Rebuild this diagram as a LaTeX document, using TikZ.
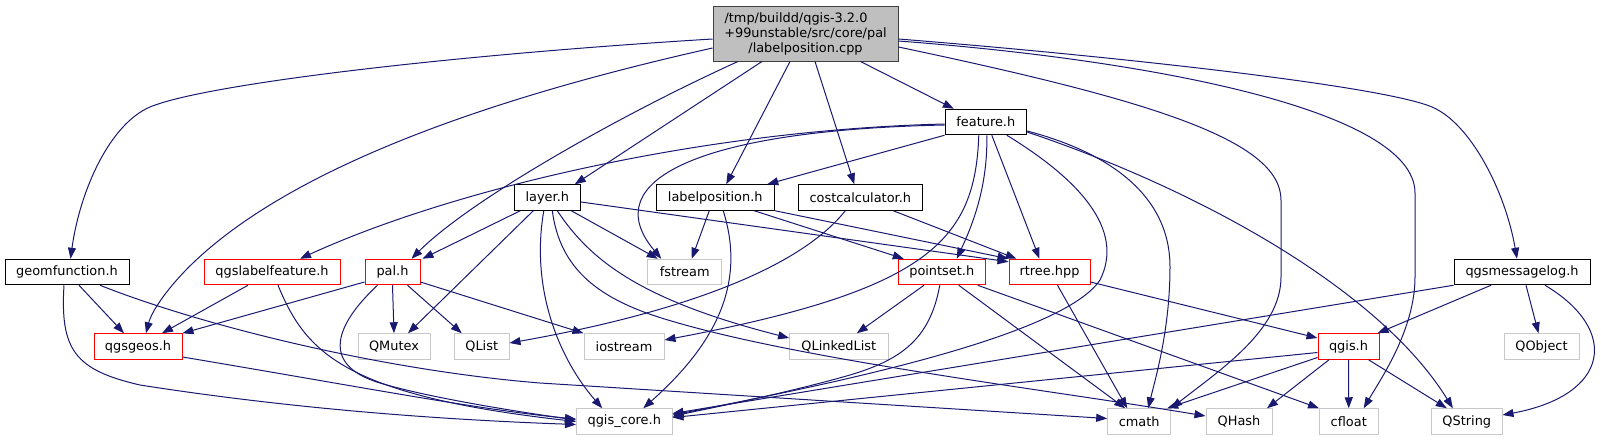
\documentclass[tikz,border=0pt]{standalone}
\usepackage{fontspec}
\setmainfont{DejaVu Sans}
\usepackage{xcolor}
\usetikzlibrary{arrows.meta, positioning}
\definecolor{edgeblue}{RGB}{25,25,112}
\definecolor{rootfill}{RGB}{191,191,191}
\definecolor{rootline}{RGB}{64,64,64}
\definecolor{sysline}{RGB}{200,200,200}
\definecolor{redline}{RGB}{255,0,0}
\tikzset{
  file/.style={
    rectangle, draw, fill=white, line width=1pt, inner sep=0pt,
    minimum height=25.5pt, font=\fontsize{12.9}{15}\selectfont, text=black
  },
  rootfile/.style={
    file, draw=rootline, fill=rootfill, minimum width=185pt,
    minimum height=55pt, align=center
  },
  docfile/.style={file, draw=black},
  redfile/.style={file, draw=redline},
  sysfile/.style={file, draw=sysline},
  incl/.style={-{Triangle[length=11pt, width=8pt]}, line width=1pt, draw=edgeblue}
}

\begin{document}
\begin{tikzpicture}[x=1pt, y=-1pt]
  \useasboundingbox (0,0) rectangle (1601,440);

  % ── Layer 0: Source file ─────────────────────────────────────────
  \node[rootfile] (labelpos_cpp) at (805.5,33.5)
    {/tmp/buildd/qgis-3.2.0\hspace*{19pt}\\+99unstable/src/core/pal\\/labelposition.cpp};

  % ── Layer 1 / 2: Direct headers ──────────────────────────────────
  \node[docfile, minimum width=81.6pt]  (feature)        at (985.8,122)   {feature.h};
  \node[docfile, minimum width=66.6pt]  (layer)          at (547.3,197.5) {layer.h};
  \node[docfile, minimum width=118.5pt] (labelposition)  at (715.25,197.5){labelposition.h};
  \node[docfile, minimum width=124.6pt] (costcalculator) at (860.3,197.5) {costcalculator.h};

  % ── Layer 3 ──────────────────────────────────────────────────────
  \node[docfile, minimum width=124pt]   (geomfunction)    at (67,272)     {geomfunction.h};
  \node[redfile, minimum width=136pt]   (qgslabelfeature) at (272,272)    {qgslabelfeature.h};
  \node[redfile, minimum width=55pt]    (pal)             at (392.5,272)  {pal.h};
  \node[sysfile, minimum width=74pt]    (fstream)         at (684.75,272) {fstream};
  \node[redfile, minimum width=86.5pt]  (pointset)        at (941.75,272) {pointset.h};
  \node[redfile, minimum width=81pt]    (rtree)           at (1049.5,272) {rtree.hpp};
  \node[docfile, minimum width=136pt]   (qgsmessagelog)   at (1522,272)   {qgsmessagelog.h};

  % ── Layer 4 ──────────────────────────────────────────────────────
  \node[redfile, minimum width=88pt]    (qgsgeos)     at (138,346.5)    {qgsgeos.h};
  \node[sysfile, minimum width=72pt]    (QMutex)      at (394,346.5)    {QMutex};
  \node[sysfile, minimum width=54.5pt]  (QList)       at (481.75,346.5) {QList};
  \node[sysfile, minimum width=80pt]    (iostream)    at (624,346.5)    {iostream};
  \node[sysfile, minimum width=98.4pt]  (QLinkedList) at (838.8,346.5)  {QLinkedList};
  \node[redfile, minimum width=61pt]    (qgis)        at (1348.5,346.5) {qgis.h};
  \node[sysfile, minimum width=75pt]    (QObject)     at (1541.5,346.5) {QObject};

  % ── Layer 5 ──────────────────────────────────────────────────────
  \node[sysfile, minimum width=95.5pt]  (qgis_core) at (624.25,421.5)  {qgis\_core.h};
  \node[sysfile, minimum width=63pt]    (cmath)     at (1139.2,421.5)  {cmath};
  \node[sysfile, minimum width=66pt]    (QHash)     at (1239,421.5)    {QHash};
  \node[sysfile, minimum width=58.5pt]  (cfloat)    at (1348.75,421.5) {cfloat};
  \node[sysfile, minimum width=70.4pt]  (QString)   at (1466.8,421.5)  {QString};

  % ── Includes of labelposition.cpp ────────────────────────────────
  \draw[incl] ([yshift=-5.5pt]labelpos_cpp.west) .. controls (450,55) and (205,84) .. (150,107)
    .. controls (110,124) and (80,190) .. ([xshift=3.5pt]geomfunction.north);
  \draw[incl] ([yshift=-14.5pt]labelpos_cpp.west) .. controls (480,100) and (290,170) .. (193,263)
    .. controls (170,285) and (152,310) .. ([xshift=8pt]qgsgeos.north);
  \draw[incl] ([xshift=-67.5pt]labelpos_cpp.south) .. controls (620,115) and (470,200) .. ([xshift=19pt]pal.north);
  \draw[incl] ([xshift=-43.5pt]labelpos_cpp.south) -- ([xshift=27.5pt]layer.north);
  \draw[incl] ([xshift=-15.5pt]labelpos_cpp.south) -- ([xshift=11pt]labelposition.north);
  \draw[incl] ([xshift=9.5pt]labelpos_cpp.south)   -- ([xshift=-6pt]costcalculator.north);
  \draw[incl] ([xshift=55pt]labelpos_cpp.south)    -- ([xshift=-32pt]feature.north);
  \draw[incl] ([yshift=-5.5pt]labelpos_cpp.east) .. controls (1100,55) and (1380,85) .. (1432,107)
    .. controls (1470,123) and (1505,190) .. ([xshift=-5pt]qgsmessagelog.north);
  \draw[incl] ([yshift=-7.5pt]labelpos_cpp.east) .. controls (1150,60) and (1415,110) .. (1415,193)
    -- (1415,277) .. controls (1415,330) and (1380,380) .. ([xshift=15pt]cfloat.north);
  \draw[incl] ([yshift=-13.5pt]labelpos_cpp.east) .. controls (1150,100) and (1281,140) .. (1281,200)
    -- (1281,277) .. controls (1281,330) and (1220,370) .. (cmath.north east);

  % ── feature.h ────────────────────────────────────────────────────
  \draw[incl] ([yshift=-2pt]feature.west) .. controls (700,130) and (450,190) .. ([xshift=28pt]qgslabelfeature.north);
  \draw[incl] ([yshift=-3pt]feature.west) .. controls (700,130) and (595,180) .. ([xshift=-23.5pt]fstream.north);
  \draw[incl] (feature.south west) -- ([xshift=52pt]labelposition.north);
  \draw[incl] ([xshift=-7pt]feature.south) .. controls (975,240) and (930,290) .. ([yshift=6.5pt]iostream.east);
  \draw[incl] ([xshift=1pt]feature.south) .. controls (988,190) and (970,230) .. ([xshift=15pt]pointset.north);
  \draw[incl] ([xshift=6pt]feature.south) -- ([xshift=-10pt]rtree.north);
  \draw[incl] ([xshift=21pt]feature.south) .. controls (1080,180) and (1125,230) .. (1100,280)
    .. controls (1060,340) and (800,390) .. ([yshift=6.5pt]qgis_core.east);
  \draw[incl] ([yshift=-9pt]feature.east) .. controls (1100,150) and (1170,190) .. (1170,267)
    .. controls (1170,330) and (1155,380) .. ([xshift=9pt]cmath.north);
  \draw[incl] ([yshift=-10pt]feature.east) .. controls (1200,190) and (1380,290) .. ([xshift=-14pt]QString.north);

  % ── layer.h ──────────────────────────────────────────────────────
  \draw[incl] ([xshift=-27pt]layer.south) -- ([xshift=30pt]pal.north);
  \draw[incl] ([xshift=-14pt]layer.south) -- ([xshift=14pt]QMutex.north);
  \draw[incl] ([yshift=-4.5pt]layer.east) -- ([yshift=-3pt]rtree.north west);
  \draw[incl] ([xshift=24pt]layer.south)  -- ([xshift=-27pt]fstream.north);
  \draw[incl] ([xshift=10pt]layer.south) .. controls (590,260) and (640,300) .. ([yshift=8.5pt]QLinkedList.west);
  \draw[incl] ([xshift=5pt]layer.south) .. controls (560,270) and (600,300) .. (668,320)
    .. controls (800,360) and (1050,390) .. ([yshift=5.5pt]QHash.west);
  \draw[incl] ([xshift=-3.5pt]layer.south) .. controls (530,290) and (560,360) .. ([xshift=-22pt]qgis_core.north);

  % ── labelposition.h / costcalculator.h ───────────────────────────
  \draw[incl] ([xshift=-6pt]labelposition.south) -- ([xshift=7pt]fstream.north);
  \draw[incl] ([xshift=8pt]labelposition.south) .. controls (745,280) and (720,340) .. ([xshift=19pt]qgis_core.north);
  \draw[incl] ([xshift=39pt]labelposition.south) -- ([xshift=-38pt]pointset.north);
  \draw[incl] (labelposition.south east) -- (rtree.north west);
  \draw[incl] ([xshift=33pt]costcalculator.south) -- ([xshift=-33pt]rtree.north);
  \draw[incl] ([xshift=-15pt]costcalculator.south) .. controls (790,280) and (640,320) .. ([yshift=3.5pt]QList.east);

  % ── geomfunction.h / qgslabelfeature.h / pal.h / qgsgeos.h ───────
  \draw[incl] ([xshift=12pt]geomfunction.south) -- ([xshift=-14pt]qgsgeos.north);
  \draw[incl] ([xshift=33pt]geomfunction.south) .. controls (200,325) and (380,370) .. (540,383)
    -- ([yshift=3pt]cmath.west);
  \draw[incl] ([xshift=-3pt]geomfunction.south) .. controls (60,350) and (75,370) .. (140,385)
    .. controls (300,410) and (450,420) .. ([yshift=-3pt]qgis_core.west);
  \draw[incl] ([xshift=-24pt]qgslabelfeature.south) -- ([xshift=24pt]qgsgeos.north);
  \draw[incl] ([xshift=6pt]qgslabelfeature.south) .. controls (305,350) and (340,395) .. (qgis_core.west);
  \draw[incl] ([yshift=-10pt]pal.west) -- (qgsgeos.north east);
  \draw[incl] (pal.south) -- (QMutex.north);
  \draw[incl] ([xshift=15pt]pal.south) -- ([xshift=-20pt]QList.north);
  \draw[incl] ([yshift=-10pt]pal.east) -- (iostream.north west);
  \draw[incl] ([xshift=-15pt]pal.south) .. controls (335,325) and (320,365) .. (380,383)
    .. controls (430,398) and (520,412) .. ([yshift=1.5pt]qgis_core.west);
  \draw[incl] ([yshift=-10.5pt]qgsgeos.east) .. controls (350,385) and (480,410) .. ([yshift=2.5pt]qgis_core.west);

  % ── pointset.h / rtree.hpp ───────────────────────────────────────
  \draw[incl] ([xshift=-17.75pt]pointset.south) -- ([xshift=18pt]QLinkedList.north);
  \draw[incl] ([xshift=-2pt]pointset.south) .. controls (930,340) and (900,360) .. (850,375)
    .. controls (780,395) and (700,410) .. ([yshift=5pt]qgis_core.east);
  \draw[incl] ([xshift=17pt]pointset.south) -- ([xshift=-14pt]cmath.north);
  \draw[incl] ([xshift=36pt]pointset.south) -- (cfloat.north west);
  \draw[incl] ([xshift=8pt]rtree.south) -- ([xshift=-12pt]cmath.north);
  \draw[incl] ([yshift=-10pt]rtree.east) -- ([yshift=8.5pt]qgis.west);

  % ── qgsmessagelog.h / qgis.h ─────────────────────────────────────
  \draw[incl] (qgsmessagelog.south west) -- ([yshift=8pt]qgis_core.east);
  \draw[incl] ([xshift=-31pt]qgsmessagelog.south) -- ([xshift=29pt]qgis.north);
  \draw[incl] ([xshift=4pt]qgsmessagelog.south) -- ([xshift=-3pt]QObject.north);
  \draw[incl] ([xshift=23pt]qgsmessagelog.south) .. controls (1620,330) and (1610,395) .. ([yshift=6.5pt]QString.east);
  \draw[incl] ([yshift=-6pt]qgis.west) -- ([yshift=4pt]qgis_core.east);
  \draw[incl] ([yshift=-11pt]qgis.west) -- ([xshift=-4pt]cmath.north east);
  \draw[incl] ([xshift=-19.5pt]qgis.south) -- ([xshift=28pt]QHash.north);
  \draw[incl] (qgis.south) -- (cfloat.north);
  \draw[incl] ([xshift=20pt]qgis.south) -- ([xshift=-20pt]QString.north);
\end{tikzpicture}
\end{document}
